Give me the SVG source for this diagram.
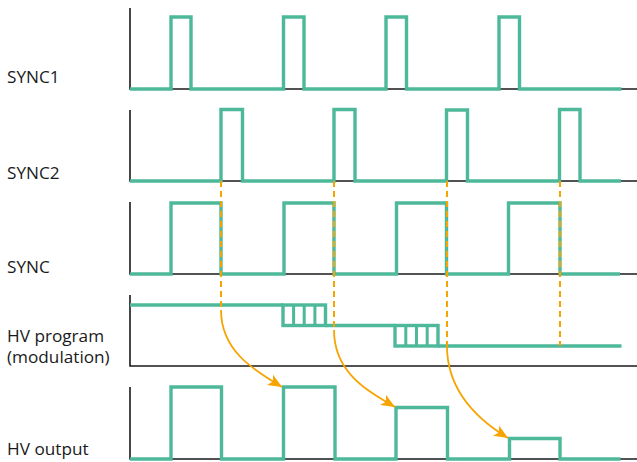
<svg xmlns="http://www.w3.org/2000/svg" width="637" height="462" viewBox="0 0 637 462">
  <style>
    .axis { fill: none; stroke: #1a1a1a; stroke-width: 1.6; }
    .sig { fill: none; stroke: #4db89a; stroke-width: 3.4; stroke-linejoin: miter; stroke-linecap: butt; }
    .cell { fill: none; stroke: #4db89a; stroke-width: 3; }
    .dash { fill: none; stroke: #f5a400; stroke-width: 2; stroke-dasharray: 6 4; }
    .curve { fill: none; stroke: #f5a400; stroke-width: 1.8; }
    .label { font-family: "Open Sans", "Noto Sans", sans-serif; font-size: 17.2px; fill: #1a1a1a; }
  </style>
  <defs>
    <marker id="arrow" markerUnits="userSpaceOnUse" markerWidth="14" markerHeight="12" viewBox="0 0 14 12" refX="14" refY="6" orient="auto">
      <path d="M0,0 L14,6 L0,12 L3.5,6 Z" fill="#f5a400"/>
    </marker>
  </defs>

  <rect width="637" height="462" fill="#ffffff"/>

  <!-- SYNC1 -->
  <g id="sync1">
    <text class="label" x="7" y="82.5">SYNC1</text>
    <path class="axis" d="M130,8 V89 H637"/>
    <path class="sig" d="M130,89 H171 V17 H191 V89 H283.5 V17 H304 V89 H386 V17 H406.5 V89 H499 V17 H519.5 V89 H621.5"/>
  </g>

  <!-- SYNC2 -->
  <g id="sync2">
    <text class="label" x="7" y="179">SYNC2</text>
    <path class="axis" d="M130,110 V181 H637"/>
    <path class="sig" d="M130,181 H221 V109.5 H242.5 V181 H334 V109.5 H355 V181 H446.5 V110 H467.5 V181 H559.5 V109.5 H580 V181 H621"/>
  </g>

  <!-- SYNC -->
  <g id="sync">
    <text class="label" x="7" y="272.5">SYNC</text>
    <path class="axis" d="M130,202 V274 H637"/>
    <path class="sig" d="M130,274 H171 V203 H221 V274 H284 V203 H334 V274 H396.5 V203 H446.5 V274 H508.5 V203 H560 V274 H620"/>
  </g>

  <!-- HV program (modulation) -->
  <g id="hv-program">
    <text class="label" x="7" y="341.5">HV program</text>
    <text class="label" x="7" y="363">(modulation)</text>
    <path class="axis" d="M130,295 V366 H637"/>
    <path class="sig" d="M130,305 H283"/>
    <rect class="sig" x="283" y="305" width="42.5" height="20.5"/>
    <path class="cell" d="M293.6,305 V325.5 M304.2,305 V325.5 M314.9,305 V325.5"/>
    <path class="sig" d="M325.5,325.5 H395"/>
    <rect class="sig" x="395" y="325.5" width="43" height="20.5"/>
    <path class="cell" d="M405.8,325.5 V346 M416.5,325.5 V346 M427.2,325.5 V346"/>
    <path class="sig" d="M438,346 H621.5"/>
  </g>

  <!-- HV output -->
  <g id="hv-output">
    <text class="label" x="7" y="455">HV output</text>
    <path class="axis" d="M130,387 V459 H637"/>
    <path class="sig" d="M130,459 H171 V387 H221.5 V459 H283.5 V387 H335 V459 H396 V407.5 H447.5 V459 H509.5 V438.5 H560 V459 H620.5"/>
  </g>

  <!-- timing links: SYNC2 rising edges to HV program steps and HV output -->
  <g id="connectors">
    <path class="dash" d="M221,181 V310"/>
    <path class="dash" d="M334,181 V330"/>
    <path class="dash" d="M447,181 V346"/>
    <path class="dash" d="M560,181 V346"/>
    <path class="curve" marker-end="url(#arrow)" d="M221,310 C221,350 252,369 282,387"/>
    <path class="curve" marker-end="url(#arrow)" d="M334,330 C334,372 366,390 395,407"/>
    <path class="curve" marker-end="url(#arrow)" d="M447,346 C447,392 480,421 508,438"/>
  </g>
</svg>
